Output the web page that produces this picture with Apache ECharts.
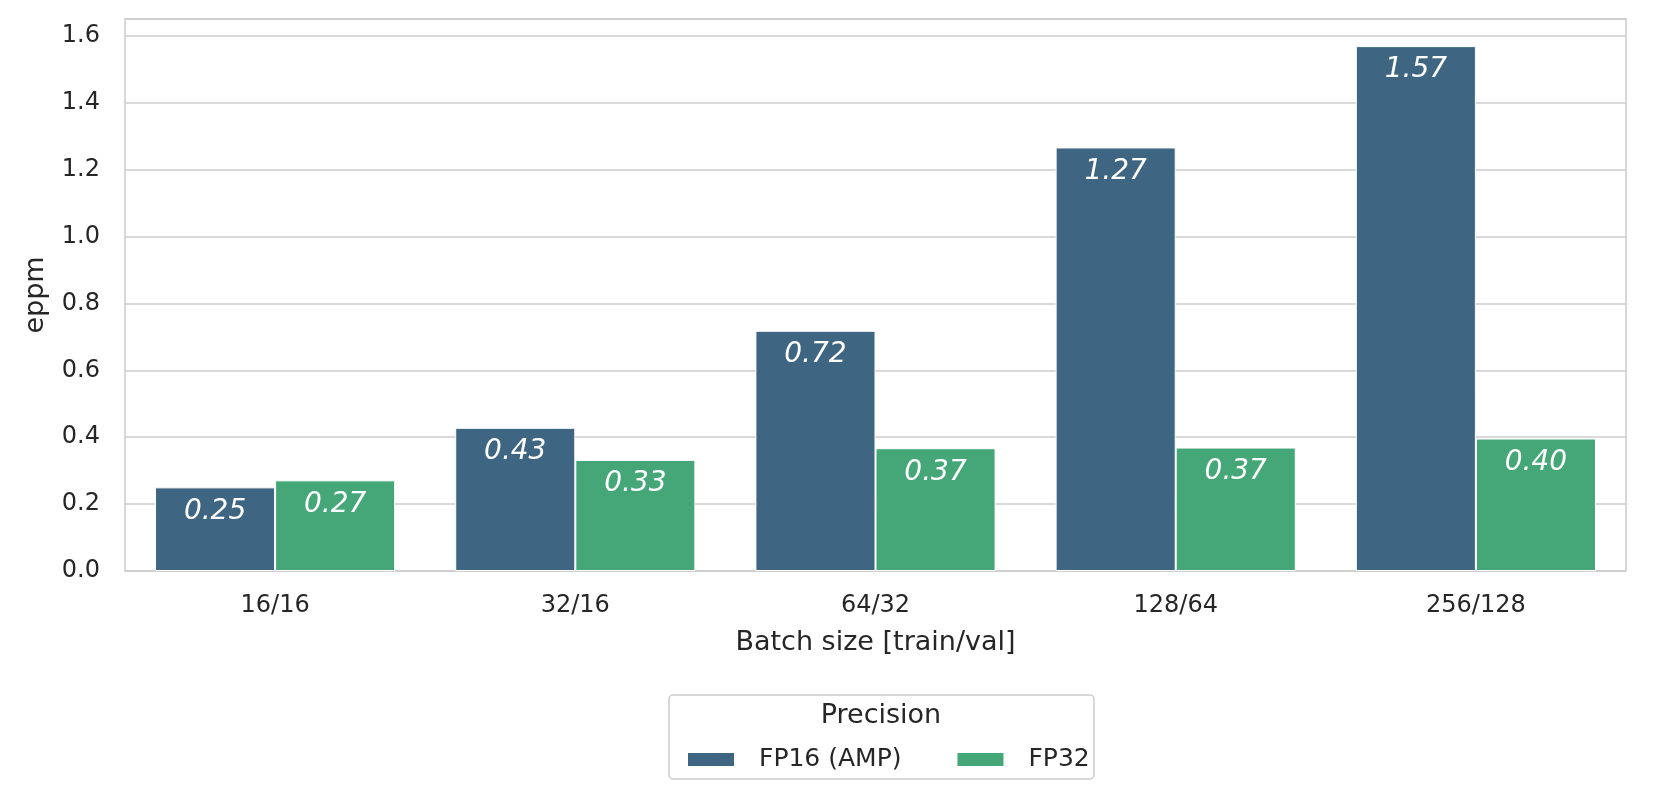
<!DOCTYPE html>
<html>
<head>
<meta charset="utf-8">
<script src="https://cdn.jsdelivr.net/npm/echarts@6/dist/echarts.min.js"></script>
<style>html,body{margin:0;padding:0;background:#fff;}#chart{width:1660px;height:801px;}</style>
</head>
<body>
<div id="chart"></div>
<script>
const categories = ['16/16', '32/16', '64/32', '128/64', '256/128'];
const seriesNames = ['FP16 (AMP)', 'FP32'];
const fp16Values = [0.250, 0.428, 0.718, 1.266, 1.569];
const fp32Values = [0.271, 0.332, 0.367, 0.369, 0.396];
const yTicks = [0, 0.2, 0.4, 0.6, 0.8, 1.0, 1.2, 1.4, 1.6];
const colors = ['#3e6682', '#45a777'];

const FONT = 'DejaVu Sans';
const chart = echarts.init(document.getElementById('chart'), null, {renderer: 'canvas'});

function barLabel() {
  return {
    show: true,
    position: 'insideTop',
    distance: 10,
    color: '#ffffff',
    fontStyle: 'italic',
    fontFamily: FONT,
    fontSize: 28,
    formatter: p => p.value.toFixed(2)
  };
}

const option = {
  backgroundColor: '#ffffff',
  animation: false,
  grid: {
    left: 125, right: 34, top: 19, bottom: 230,
    show: true, borderColor: '#cccccc', borderWidth: 1.5, containLabel: false
  },
  xAxis: {
    type: 'category',
    data: categories,
    name: 'Batch size [train/val]',
    nameLocation: 'middle',
    nameGap: 58,
    nameTextStyle: {fontFamily: FONT, fontSize: 27, color: '#262626'},
    axisLine: {show: false},
    axisTick: {show: false},
    axisLabel: {fontFamily: FONT, fontSize: 24, color: '#262626', margin: 23},
    splitLine: {show: false}
  },
  yAxis: {
    type: 'value',
    min: 0,
    max: 1.65,
    interval: 0.2,
    name: 'eppm',
    nameLocation: 'middle',
    nameGap: 76,
    nameTextStyle: {fontFamily: FONT, fontSize: 27, color: '#262626'},
    axisLine: {show: false},
    axisTick: {show: false},
    axisLabel: {
      fontFamily: FONT, fontSize: 24, color: '#262626', margin: 25,
      showMaxLabel: false,
      formatter: v => (yTicks.some(t => Math.abs(t - v) < 1e-6) ? v.toFixed(1) : '')
    },
    splitLine: {show: true, lineStyle: {color: '#cccccc', width: 1.5}}
  },
  legend: {
    data: seriesNames,
    left: 681,
    top: 742,
    itemWidth: 48,
    itemHeight: 15,
    itemGap: 54,
    icon: 'rect',
    textStyle: {fontFamily: FONT, fontSize: 25, color: '#262626', padding: [0, 0, 0, 19]}
  },
  graphic: [
    {
      type: 'rect',
      shape: {x: 669, y: 695, width: 425, height: 84, r: 4},
      style: {fill: '#ffffff', stroke: '#cccccc', lineWidth: 1.5},
      z: -1
    },
    {
      type: 'text',
      x: 881, y: 716,
      style: {text: 'Precision', fontFamily: FONT, fontSize: 27, fill: '#262626', textAlign: 'center', textVerticalAlign: 'middle'}
    }
  ],
  series: [
    {
      name: seriesNames[0], type: 'bar', data: fp16Values,
      barWidth: '40%', barGap: '0%',
      itemStyle: {color: colors[0], borderColor: '#ffffff', borderWidth: 1},
      label: barLabel()
    },
    {
      name: seriesNames[1], type: 'bar', data: fp32Values,
      barWidth: '40%', barGap: '0%',
      itemStyle: {color: colors[1], borderColor: '#ffffff', borderWidth: 1},
      label: barLabel()
    }
  ]
};
chart.setOption(option);
</script>
</body>
</html>
